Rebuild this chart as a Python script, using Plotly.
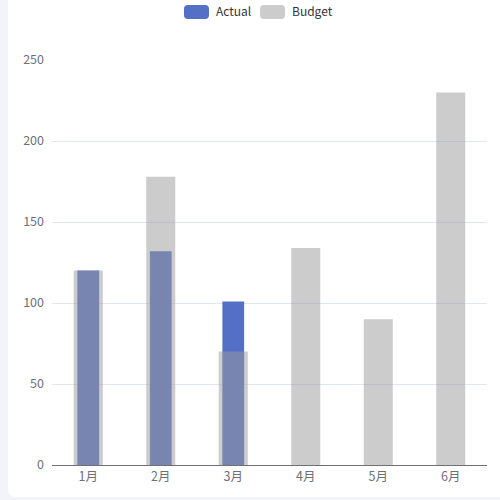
import plotly.graph_objects as go

months = ["1月", "2月", "3月", "4月", "5月", "6月"]
actual = [120, 132, 101, None, None, None]
budget = [120, 178, 70, 134, 90, 230]
y_ticks = [0, 50, 100, 150, 200, 250]

W, H = 500, 500
ML, MR, MT, MB = 52, 13, 60, 35
PW, PH = W - ML - MR, H - MT - MB

BLUE = "#5470c6"
GREY = "rgba(153,153,153,0.5)"
PAGE = "#f3f4f9"
FONT = "Noto Sans CJK SC, Microsoft YaHei, sans-serif"


def px(x, y):
    # pixel position -> paper coords
    return (x - ML) / PW, (H - MB - y) / PH


def rounded_rect(x0, y0, x1, y1, r):
    rx, ry = r / PW, r / PH
    a0, b0 = px(x0, y0)
    a1, b1 = px(x1, y1)
    # a0 left, a1 right, b0 top, b1 bottom
    return (f"M{a0 + rx},{b0} L{a1 - rx},{b0} Q{a1},{b0} {a1},{b0 - ry} "
            f"L{a1},{b1 + ry} Q{a1},{b1} {a1 - rx},{b1} "
            f"L{a0 + rx},{b1} Q{a0},{b1} {a0},{b1 + ry} "
            f"L{a0},{b0 - ry} Q{a0},{b0} {a0 + rx},{b0} Z")


fig = go.Figure()
fig.add_trace(go.Bar(x=months, y=actual, name="Actual", width=0.3,
                     marker=dict(color=BLUE, line=dict(width=0))))
fig.add_trace(go.Bar(x=months, y=budget, name="Budget", width=0.4,
                     marker=dict(color=GREY, line=dict(width=0))))

shapes = [
    # white card on the grey page
    dict(type="path", xref="paper", yref="paper", layer="below",
         path=rounded_rect(8, -20, 520, 497, 8),
         fillcolor="white", line=dict(width=0)),
    # legend swatches
    dict(type="path", xref="paper", yref="paper",
         path=rounded_rect(184, 5, 209, 19, 4),
         fillcolor=BLUE, line=dict(width=0)),
    dict(type="path", xref="paper", yref="paper",
         path=rounded_rect(260, 5, 285, 19, 4),
         fillcolor="#cccccc", line=dict(width=0)),
]

annotations = []
for label, xp in [("Actual", 214), ("Budget", 290)]:
    ax, ay = px(xp, 10.5)
    annotations.append(dict(text=label, x=ax, y=ay, xref="paper", yref="paper",
                            xanchor="left", yanchor="middle", showarrow=False,
                            font=dict(size=12, color="#333333", family=FONT)))

fig.update_layout(
    width=W, height=H,
    margin=dict(l=ML, r=MR, t=MT, b=MB),
    paper_bgcolor=PAGE,
    plot_bgcolor="white",
    barmode="overlay",
    showlegend=False,
    shapes=shapes,
    annotations=annotations,
    font=dict(family=FONT, size=12, color="#6e7079"),
    xaxis=dict(showgrid=False, showline=True, linecolor="#6e7079", linewidth=1,
               ticks="", tickfont=dict(size=12.5, color="#6e7079"),
               fixedrange=True),
    yaxis=dict(range=[0, 250], tickvals=y_ticks, showgrid=True,
               gridcolor="#e0e6f1", gridwidth=1, zeroline=False, showline=False,
               ticks="", ticklabelstandoff=7,
               tickfont=dict(size=12.5, color="#6e7079"), fixedrange=True),
)

fig.write_html("out.html", config={"displayModeBar": False},
               post_script="document.body.style.margin='0';"
                           "document.body.style.background='" + PAGE + "';")
